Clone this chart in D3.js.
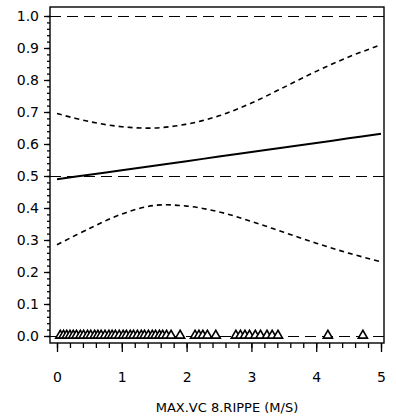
<!DOCTYPE html>
<html>
<head>
<meta charset="utf-8">
<script src="https://cdn.jsdelivr.net/npm/d3@7"></script>
<style>
body { margin:0; background:#fff; }
svg text { font-family: "DejaVu Sans", sans-serif; fill:#000; }
</style>
</head>
<body>
<div id="chart"></div>
<script>
// x positions of the fitted curves (m/s)
const xs = [0, 0.5, 1.0, 1.5, 2.0, 2.5, 3.0, 3.5, 4.0, 4.5, 5.0]
const fitted = [0.490, 0.504, 0.518, 0.532, 0.546, 0.561, 0.575, 0.589, 0.603, 0.618, 0.632]
const upper = [0.695, 0.670, 0.654, 0.650, 0.662, 0.688, 0.728, 0.777, 0.827, 0.872, 0.910]
const lower = [0.285, 0.336, 0.381, 0.408, 0.406, 0.388, 0.358, 0.324, 0.290, 0.259, 0.232]

// observed values, drawn as triangles on the zero line
const obs = [0.05, 0.1, 0.15, 0.2, 0.25, 0.3, 0.36, 0.41, 0.47, 0.52, 0.58, 0.63, 0.68, 0.74, 0.8,
  0.85, 0.9, 0.96, 1.02, 1.07, 1.13, 1.18, 1.24, 1.3, 1.35, 1.41, 1.47, 1.52, 1.58, 1.63, 1.69, 1.76, 1.9,
  2.13, 2.19, 2.25, 2.32, 2.45, 2.76, 2.83, 2.9, 2.97, 3.06, 3.14, 3.24, 3.32, 3.41, 4.18, 4.72]

const refLines = [0, 0.5, 1.0]
const yTicks = [0.0, 0.1, 0.2, 0.3, 0.4, 0.5, 0.6, 0.7, 0.8, 0.9, 1.0]
const xTicks = [0, 1, 2, 3, 4, 5]
const xTitle = 'MAX.VC 8.RIPPE (M/S)'

const width = 396, height = 416
const frame = {left:50, right:384, top:7, bottom:343}

let x = d3.scaleLinear().domain([0, 5]).range([57, 381])
let y = d3.scaleLinear().domain([0, 1]).range([336, 16])

let svg = d3.select('#chart')
.append('svg')
.attr('width', width)
.attr('height', height)

// frame
svg.append('rect')
.attr('x', frame.left)
.attr('y', frame.top)
.attr('width', frame.right - frame.left)
.attr('height', frame.bottom - frame.top)
.attr('fill', 'none')
.attr('stroke', '#000')
.attr('stroke-width', 1.4)

// reference lines
svg.append('g')
.selectAll('line')
.data(refLines)
.enter()
.append('line')
.attr('x1', frame.left)
.attr('x2', frame.right)
.attr('y1', d => Math.round(y(d)) + 0.5)
.attr('y2', d => Math.round(y(d)) + 0.5)
.attr('stroke', '#000')
.attr('stroke-width', 1.2)
.attr('stroke-dasharray', '11,6')

// y axis: major + minor ticks
const yMinor = d3.range(0, 1.0001, 0.02)
const yMinorAxis = svg.append('g')
.attr('transform', `translate(${frame.left},0)`)
.call(d3.axisLeft(y).tickValues(yMinor).tickSize(3).tickFormat(''))
yMinorAxis.select('.domain').remove()

const yAxis = svg.append('g')
.attr('transform', `translate(${frame.left},0)`)
.call(d3.axisLeft(y).tickValues(yTicks).tickSize(6).tickPadding(5).tickFormat(d3.format('.1f')))
yAxis.select('.domain').remove()
yAxis.selectAll('text').style('font-size', '14px')

// x axis
const xMinor = d3.range(0, 5.0001, 0.2)
const xMinorAxis = svg.append('g')
.attr('transform', `translate(0,${frame.bottom})`)
.call(d3.axisBottom(x).tickValues(xMinor).tickSize(5).tickFormat(''))
xMinorAxis.select('.domain').remove()

const xAxis = svg.append('g')
.attr('transform', `translate(0,${frame.bottom})`)
.call(d3.axisBottom(x).tickValues(xTicks).tickSize(9).tickPadding(20).tickFormat(d3.format('d')))
xAxis.select('.domain').remove()
xAxis.selectAll('text').style('font-size', '14px')
svg.selectAll('.tick line').attr('stroke', '#000').attr('stroke-width', 1.3)

svg.append('text')
.attr('x', (frame.left + frame.right) / 2 + 10)
.attr('y', 412)
.attr('text-anchor', 'middle')
.style('font-size', '13px')
.text(xTitle)

// curves
const line = d3.line()
.x((d, i) => x(xs[i]))
.y(d => y(d))
.curve(d3.curveCatmullRom)

svg.append('path')
.attr('d', line(fitted))
.attr('fill', 'none')
.attr('stroke', '#000')
.attr('stroke-width', 2)

;[upper, lower].forEach(s => {
	svg.append('path')
	.attr('d', line(s))
	.attr('fill', 'none')
	.attr('stroke', '#000')
	.attr('stroke-width', 1.6)
	.attr('stroke-dasharray', '5,4')
})

// observation triangles
const tri = d3.symbol().type(d3.symbolTriangle).size(36)
svg.append('g')
.selectAll('path')
.data(obs)
.enter()
.append('path')
.attr('d', tri)
.attr('transform', d => `translate(${x(d)},${y(0) - 0.5})`)
.attr('fill', '#fff')
.attr('stroke', '#000')
.attr('stroke-width', 1.6)
</script>
</body>
</html>
